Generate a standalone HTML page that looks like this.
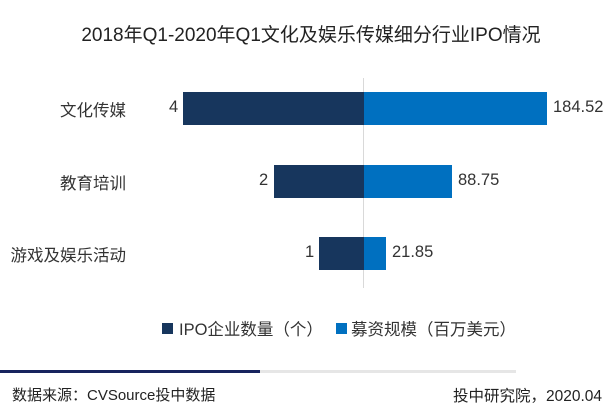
<!DOCTYPE html>
<html><head><meta charset="utf-8"><style>
body{margin:0;width:610px;height:420px;background:#fff;position:relative;overflow:hidden;font-family:"Liberation Sans","Noto Sans CJK SC",sans-serif;color:#333}
.a{position:absolute;white-space:nowrap}
.v{font-size:16.5px}
.c{font-size:16.5px;right:484px;text-align:right}
</style></head><body>
<div class="a" style="left:0;width:622px;top:20px;text-align:center;font-size:19px;color:#222">2018年Q1-2020年Q1文化及娱乐传媒细分行业IPO情况</div>
<div class="a" style="left:363px;top:78px;width:1px;height:210px;background:#d9d9d9"></div>
<div class="a" style="left:183px;top:92px;width:181px;height:33px;background:#17365d"></div>
<div class="a" style="left:364px;top:92px;width:183px;height:33px;background:#0070c0"></div>
<div class="a" style="left:274px;top:165px;width:90px;height:33px;background:#17365d"></div>
<div class="a" style="left:364px;top:165px;width:88px;height:33px;background:#0070c0"></div>
<div class="a" style="left:319px;top:237px;width:45px;height:33px;background:#17365d"></div>
<div class="a" style="left:364px;top:237px;width:22px;height:33px;background:#0070c0"></div>
<div class="a v" style="left:169px;top:98px">4</div>
<div class="a v" style="left:553px;top:98px">184.52</div>
<div class="a v" style="left:259px;top:171px">2</div>
<div class="a v" style="left:458px;top:171px">88.75</div>
<div class="a v" style="left:305px;top:243px">1</div>
<div class="a v" style="left:392px;top:243px">21.85</div>
<div class="a c" style="top:97px">文化传媒</div>
<div class="a c" style="top:170px">教育培训</div>
<div class="a c" style="top:242px">游戏及娱乐活动</div>
<div class="a" style="left:162px;top:323px;width:11px;height:11px;background:#17365d"></div>
<div class="a" style="left:179px;top:316px;font-size:16.5px">IPO企业数量（个）</div>
<div class="a" style="left:336px;top:323px;width:11px;height:11px;background:#0070c0"></div>
<div class="a" style="left:351px;top:316px;font-size:16.5px">募资规模（百万美元）</div>
<div class="a" style="left:0;top:370px;width:260px;height:3px;background:#17235e"></div>
<div class="a" style="left:260px;top:370px;width:256px;height:3px;background:#e6e6e6"></div>
<div class="a" style="left:12px;top:384px;font-size:15px;color:#222">数据来源：CVSource投中数据</div>
<div class="a" style="right:8px;top:384px;font-size:15.5px;color:#222">投中研究院，2020.04</div>
</body></html>
